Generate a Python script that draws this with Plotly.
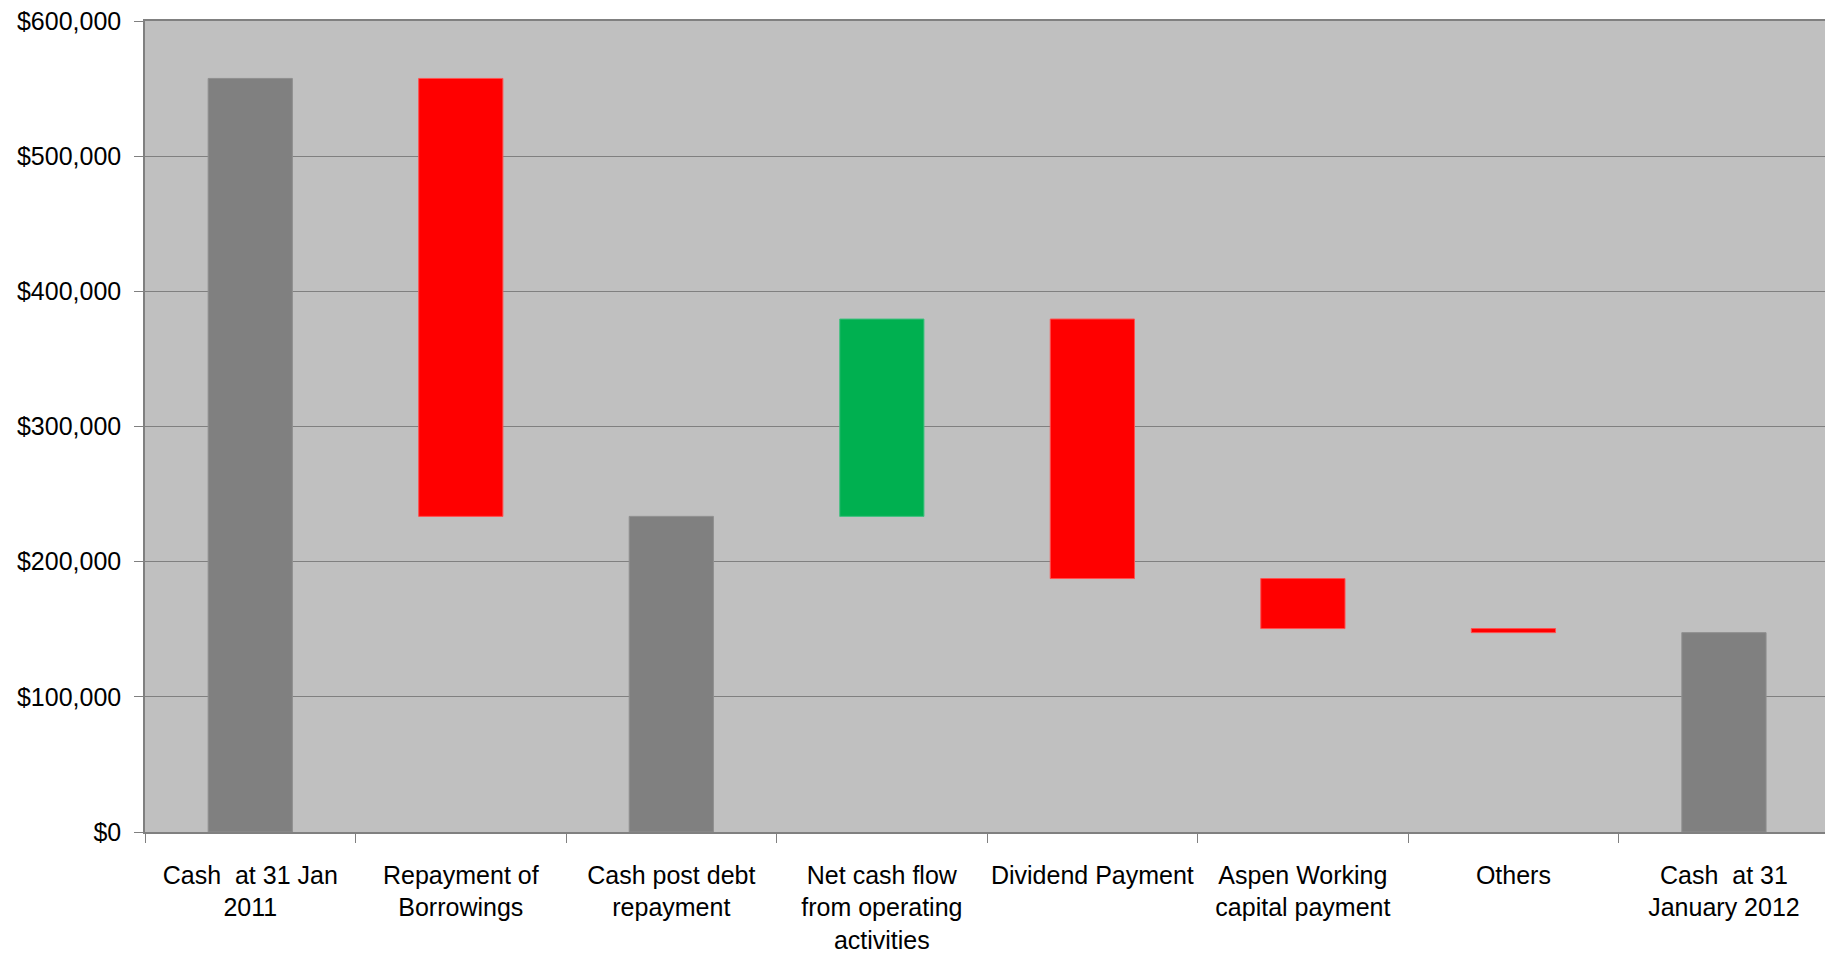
import plotly.graph_objects as go

categories = [
    "Cash\u00a0 at 31 Jan<br>2011",
    "Repayment of<br>Borrowings",
    "Cash post debt<br>repayment",
    "Net cash flow<br>from operating<br>activities",
    "Dividend Payment",
    "Aspen Working<br>capital payment",
    "Others",
    "Cash\u00a0 at 31<br>January 2012",
]
measures = ["absolute", "relative", "total", "relative", "relative", "relative", "relative", "total"]
changes = [557500, -324000, 0, 146000, -192000, -37000, -3000, 0]
y_ticks = [0, 100000, 200000, 300000, 400000, 500000, 600000]
y_tick_labels = ["$0", "$100,000", "$200,000", "$300,000", "$400,000", "$500,000", "$600,000"]

FONT = "Liberation Sans, Arial, sans-serif"

fig = go.Figure(go.Waterfall(
    x=categories,
    y=changes,
    measure=measures,
    width=0.4,
    connector=dict(visible=False),
    totals=dict(marker=dict(color="#808080", line=dict(color="#8f8f8f", width=1))),
    decreasing=dict(marker=dict(color="#FF0000", line=dict(color="#ff5050", width=1))),
    increasing=dict(marker=dict(color="#00B050", line=dict(color="#40c080", width=1))),
    textinfo="none",
    hoverinfo="x+y",
))

fig.update_layout(
    width=1825, height=953,
    margin=dict(l=145, r=0, t=21, b=121),
    paper_bgcolor="white",
    plot_bgcolor="#C0C0C0",
    showlegend=False,
    font=dict(family=FONT, size=25, color="#000000"),
)
fig.update_xaxes(
    type="category",
    range=[-0.5, 7.48],
    automargin=False,
    tickangle=0,
    showgrid=False,
    showline=True, mirror=True, linecolor="#808080", linewidth=1.5,
    ticks="outside", tickson="boundaries", ticklen=9, tickcolor="#808080", tickwidth=1,
    ticklabelstandoff=20,
    tickfont=dict(family=FONT, size=25),
)
fig.update_yaxes(
    range=[0, 600000],
    automargin=False,
    tickvals=y_ticks,
    ticktext=y_tick_labels,
    showgrid=True, gridcolor="#808080", gridwidth=1,
    showline=True, linecolor="#808080", linewidth=1.5,
    ticks="outside", ticklen=9, tickcolor="#808080",
    ticklabelstandoff=8,
    ticklabeloverflow="allow",
    zeroline=False,
    tickfont=dict(family=FONT, size=25),
)

fig.write_html(
    "out.html",
    config={"displayModeBar": False},
    post_script="document.body.style.margin='0';document.documentElement.style.overflow='hidden';",
)
